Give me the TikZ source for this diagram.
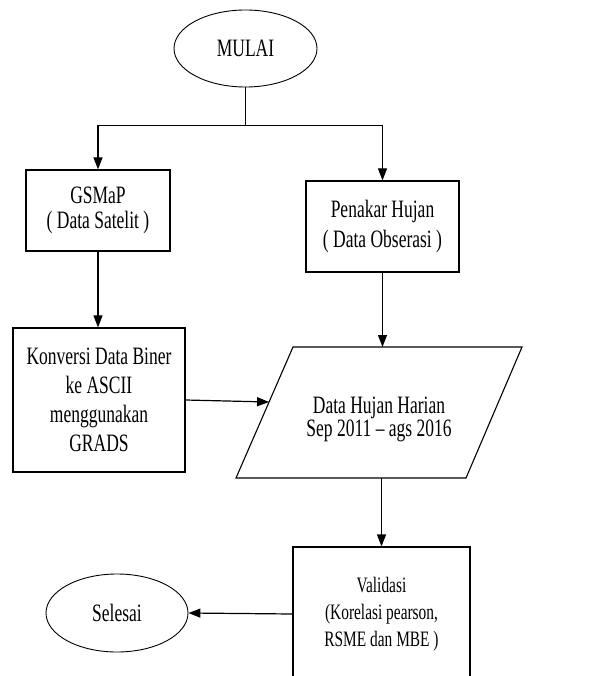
\documentclass[tikz,border=0pt]{standalone}
\usepackage{fontspec}
\setmainfont{Liberation Serif}[FakeStretch=0.70]
\usetikzlibrary{shapes.geometric,arrows.meta,calc}
\begin{document}
\begin{tikzpicture}[x=1pt,y=-1pt,
  box/.style={draw, line width=1.2pt, rectangle, align=center, inner sep=0pt},
  term/.style={draw, line width=0.9pt, ellipse, inner sep=0pt},
  conn/.style={line width=1.2pt},
  arr/.style={conn, -{Triangle[length=12pt,width=9pt]}},
  tx/.style={align=center, inner sep=0pt}
]
\useasboundingbox (0,0) rectangle (603,676);
\clip (0,0) rectangle (603,676);

\node[term, minimum width=143pt, minimum height=77pt, font=\fontsize{25}{26}\selectfont] (mulai) at (245.5,48.5) {MULAI};

\node[box, minimum width=144pt, minimum height=81pt, font=\fontsize{25}{25}\selectfont] (gsmap) at (98,210.5) {GSMaP\\( Data Satelit )};

\node[box, minimum width=153pt, minimum height=91pt, font=\fontsize{25}{30}\selectfont] (penakar) at (382.5,226.5) {Penakar Hujan\\( Data Obserasi )};

\node[box, minimum width=172pt, minimum height=144pt, font=\fontsize{25}{29}\selectfont] (konversi) at (99,400) {Konversi Data Biner\\ke ASCII\\menggunakan\\GRADS};

\coordinate (p1) at (236,478);
\coordinate (p2) at (293,347);
\coordinate (p3) at (522,347);
\coordinate (p4) at (466,478);
\draw[line width=1.1pt] (p1) -- (p2) -- (p3) -- (p4) -- cycle;
\node[tx, font=\fontsize{25}{21}\selectfont] (data) at (379,419) {Data Hujan Harian\\Sep 2011 – ags 2016};
\coordinate (dl) at ($(p1)!0.58!(p2)$);

\node[box, minimum width=177pt, minimum height=134pt, font=\fontsize{22}{27}\selectfont] (validasi) at (381.5,614) {Validasi\\(Korelasi pearson,\\RSME dan MBE )};

\node[term, minimum width=142pt, minimum height=78pt, font=\fontsize{25}{26}\selectfont] (selesai) at (117,613) {Selesai};

\draw[conn] (mulai.south) -- ++(0,38) coordinate (split);
\draw[arr] (split) -| (gsmap.north);
\draw[arr] (split) -| (penakar.north);
\draw[arr] (gsmap.south) -- (gsmap.south |- konversi.north);
\draw[arr] (penakar.south) -- (penakar.south |- p2);
\draw[arr] (konversi.east) -- (dl);
\draw[arr] (validasi.north |- p1) -- (validasi.north);
\draw[arr] (validasi.west) -- (selesai.east);
\end{tikzpicture}
\end{document}
